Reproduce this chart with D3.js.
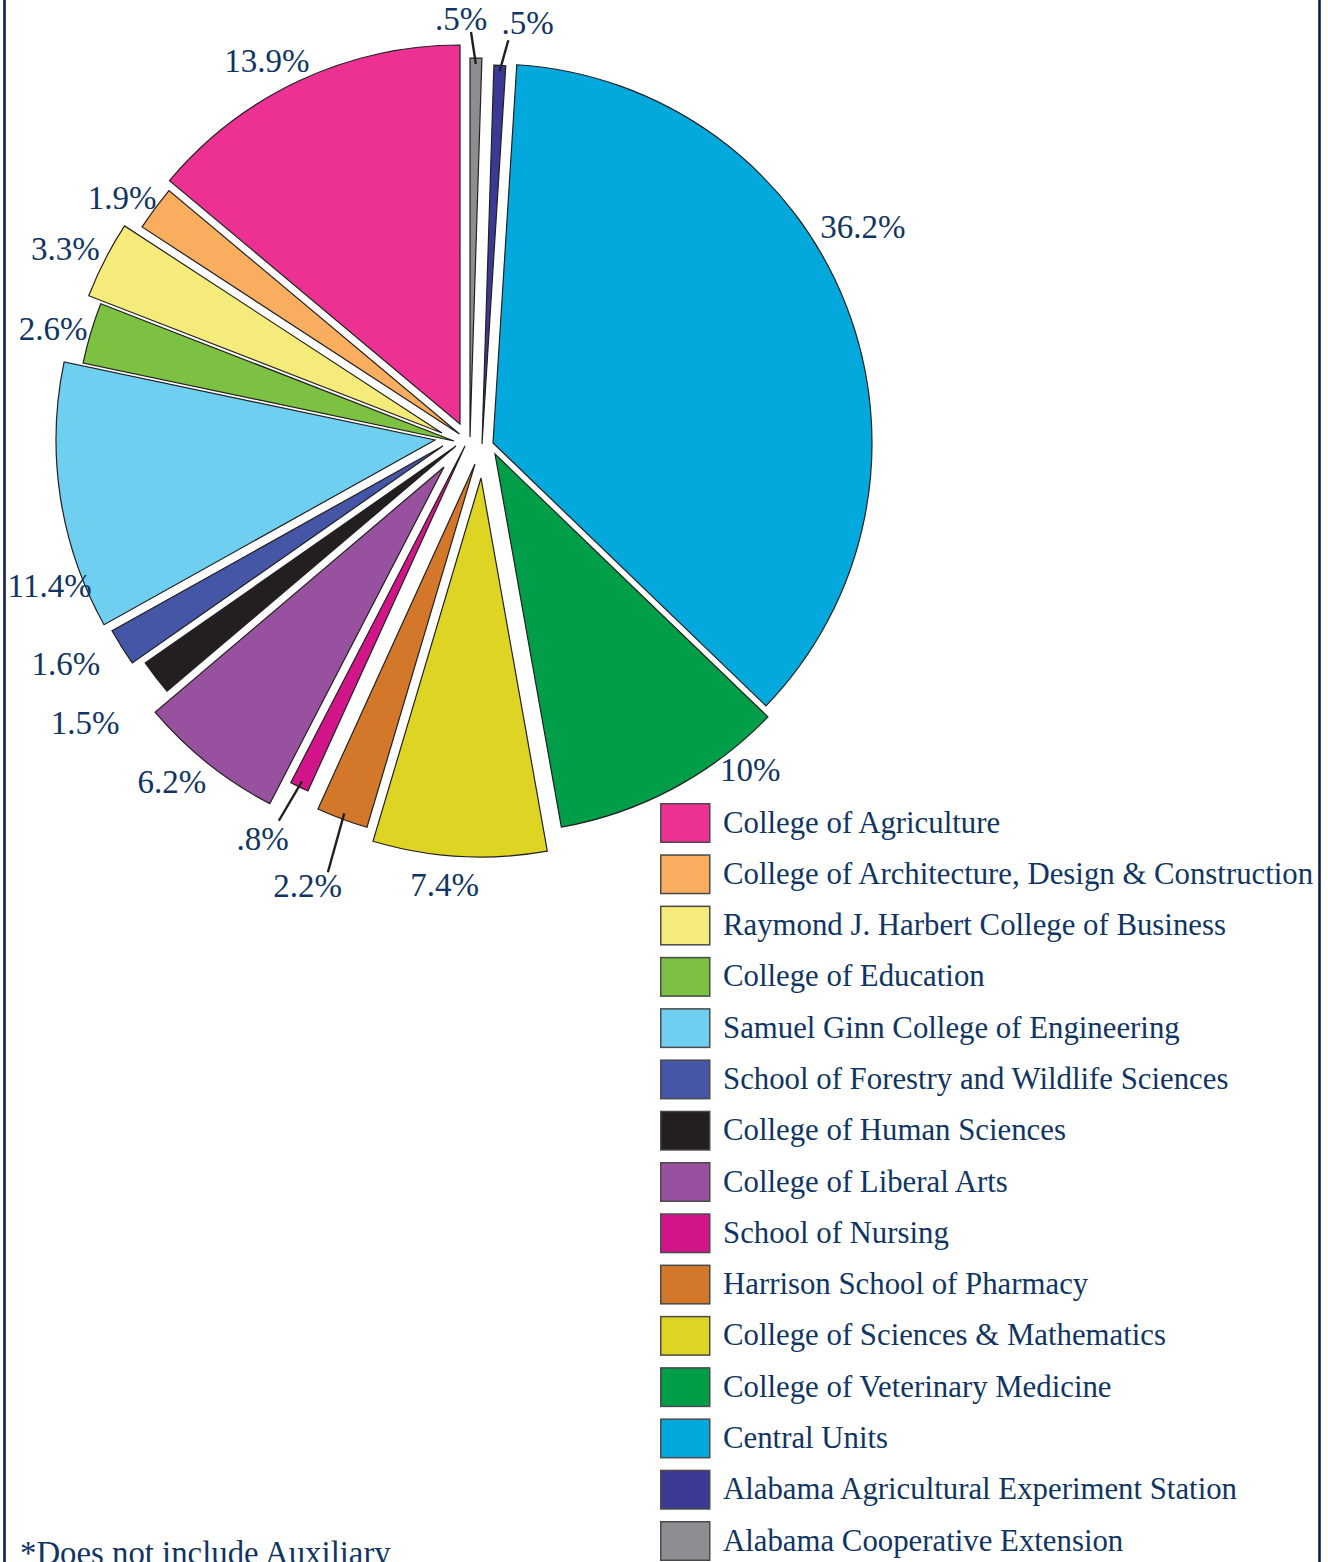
<!DOCTYPE html>
<html>
<head>
<meta charset="utf-8">
<script src="https://cdn.jsdelivr.net/npm/d3@7"></script>
<style>
  html, body { margin: 0; padding: 0; background: #ffffff; }
  svg { display: block; }
</style>
</head>
<body>
<div id="chart"></div>
<script>
// ---------------- DATA ----------------
const categories = [
  "College of Agriculture",
  "College of Architecture, Design & Construction",
  "Raymond J. Harbert College of Business",
  "College of Education",
  "Samuel Ginn College of Engineering",
  "School of Forestry and Wildlife Sciences",
  "College of Human Sciences",
  "College of Liberal Arts",
  "School of Nursing",
  "Harrison School of Pharmacy",
  "College of Sciences & Mathematics",
  "College of Veterinary Medicine",
  "Central Units",
  "Alabama Agricultural Experiment Station",
  "Alabama Cooperative Extension"
];
const values = [13.9, 1.9, 3.3, 2.6, 11.4, 1.6, 1.5, 6.2, 0.8, 2.2, 7.4, 10, 36.2, 0.5, 0.5];
const valueLabels = ["13.9%", "1.9%", "3.3%", "2.6%", "11.4%", "1.6%", "1.5%", "6.2%", ".8%", "2.2%", "7.4%", "10%", "36.2%", ".5%", ".5%"];
const colors = ["#ED3192", "#F9AE5F", "#F4EB7A", "#7CC142", "#6FCFF0", "#4456A5", "#231F20",
                "#98519E", "#D3158A", "#D3782B", "#DDD424", "#009E48", "#03A9DD", "#3A3A94", "#8D8E91"];
const footnote = "*Does not include Auxiliary";

// ---------------- LAYOUT (style) ----------------
const W = 1328, H = 1562;
const cx = 476, cy = 442, R = 379;
// exploded-slice shift per slice (same order as categories)
const sliceShift = [
  [-16, -18], [-16.5, -8], [-34, -9], [-22, -1], [-41, -2], [-33, 4], [-20, 4],
  [-32, 25], [-11, 4], [-1, 22], [5, 36], [19, 12], [17, 1], [6, 2], [-6, -5]
];
// label placement: angle adjustment (deg) relative to slice mid-angle and radius from centre
const labelAdj = [
  [-3.7, 435], [-1.9, 430], [-1.9, 454], [-1.5, 438], [-10, 450], [3.7, 466], [2.0, 481],
  [3.3, 456], [2.4, 450], [0.3, 474], [0.8, 444], [-11.9, 427], [-7.9, 443], [4.3, 423], [-2.9, 424]
];
// leader lines: index -> [end angle(deg), end radius]
const leaders = { 8: [207.5, 427], 9: [199, 455], 13: [4.6, 403], 14: [359.3, 410] };

const textColor = "#103563";
const fontFamily = "'Liberation Serif', 'Times New Roman', serif";

const data = categories.map((c, i) => ({ i, name: c, value: values[i], label: valueLabels[i], color: colors[i] }));

const svg = d3.select("#chart").append("svg")
  .attr("width", W).attr("height", H)
  .attr("viewBox", `0 0 ${W} ${H}`);

svg.append("rect").attr("width", W).attr("height", H).attr("fill", "#ffffff");

// frame lines
svg.append("line").attr("x1", 4.5).attr("x2", 4.5).attr("y1", 0).attr("y2", H)
  .attr("stroke", "#0d1f4a").attr("stroke-width", 2.6);
svg.append("line").attr("x1", 1319.5).attr("x2", 1319.5).attr("y1", 0).attr("y2", H)
  .attr("stroke", "#0d1f4a").attr("stroke-width", 2.6);

// pie: drawn clockwise from 12 o'clock, in reverse legend order
const pie = d3.pie().sort(null).value(d => d.value).startAngle(0).endAngle(2 * Math.PI);
const arcs = pie(data.slice().reverse());
const arc = d3.arc().innerRadius(0).outerRadius(R);

const polar = (a, r) => [Math.sin(a) * r, -Math.cos(a) * r];
const deg = Math.PI / 180;

const g = svg.append("g").attr("transform", `translate(${cx},${cy})`);

g.selectAll("path.slice").data(arcs).join("path")
  .attr("class", "slice")
  .attr("d", arc)
  .attr("transform", d => `translate(${sliceShift[d.data.i][0]},${sliceShift[d.data.i][1]})`)
  .attr("fill", d => d.data.color)
  .attr("stroke", "#231F20")
  .attr("stroke-width", 1.2)
  .attr("stroke-linejoin", "miter");

// leader lines
arcs.forEach(d => {
  const L = leaders[d.data.i];
  if (!L) return;
  const mid = (d.startAngle + d.endAngle) / 2;
  const [ex, ey] = sliceShift[d.data.i];
  const [sx, sy] = polar(mid, R - 6);
  const [tx, ty] = polar(L[0] * deg, L[1]);
  g.append("line")
    .attr("x1", sx + ex).attr("y1", sy + ey)
    .attr("x2", tx).attr("y2", ty)
    .attr("stroke", "#231F20").attr("stroke-width", 2.4);
});

// percentage labels
const labelPos = d => {
  const a = (d.startAngle + d.endAngle) / 2 + labelAdj[d.data.i][0] * deg;
  return polar(a, labelAdj[d.data.i][1]);
};
g.selectAll("text.pct").data(arcs).join("text")
  .attr("class", "pct")
  .attr("x", d => labelPos(d)[0])
  .attr("y", d => labelPos(d)[1])
  .attr("dy", "0.35em")
  .attr("text-anchor", "middle")
  .attr("font-family", fontFamily)
  .attr("font-size", 33)
  .attr("fill", textColor)
  .text(d => d.data.label);

// legend
const legendY = d3.scaleLinear().domain([0, categories.length - 1]).range([803, 1521]);
const leg = svg.append("g");
const rows = leg.selectAll("g.row").data(data).join("g")
  .attr("class", "row")
  .attr("transform", d => `translate(660,${legendY(d.i)})`);
rows.append("rect")
  .attr("x", 0.75).attr("y", 0.75).attr("width", 49).attr("height", 38.5)
  .attr("fill", d => d.color)
  .attr("stroke", "#4a4a4a").attr("stroke-width", 1.5);
rows.append("text")
  .attr("x", 63).attr("y", 29.5)
  .attr("font-family", fontFamily)
  .attr("font-size", 30.8)
  .attr("fill", textColor)
  .text(d => d.name);

// footnote
svg.append("text")
  .attr("x", 20).attr("y", 1564)
  .attr("font-family", fontFamily)
  .attr("font-size", 32.8)
  .attr("fill", textColor)
  .text(footnote);
</script>
</body>
</html>
